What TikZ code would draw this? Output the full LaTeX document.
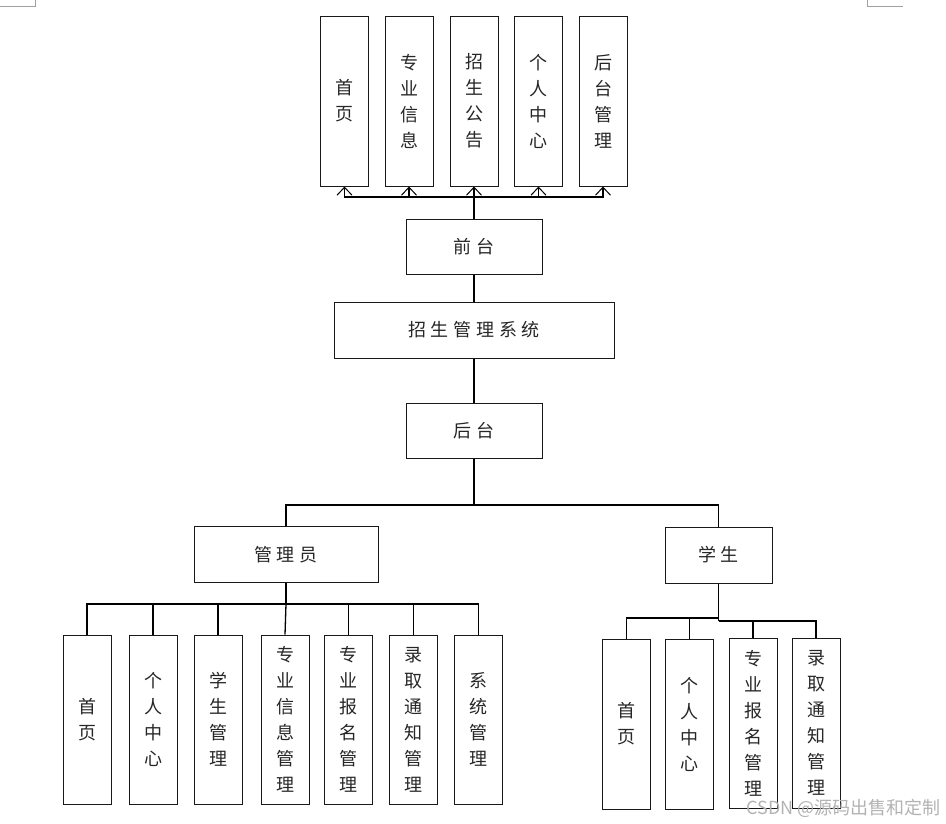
\documentclass[tikz,border=0pt]{standalone}
\usepackage{fontspec}
\usepackage{tikz}
\usetikzlibrary{arrows.meta,backgrounds}
\newfontfamily\cjk{Noto Sans CJK SC}
\newfontfamily\cjkwide[LetterSpace=26]{Noto Sans CJK SC}
\pgfdeclarelayer{edgelayer}
\pgfdeclarelayer{nodelayer}
\pgfsetlayers{edgelayer,nodelayer,main}
\tikzstyle{none}=[inner sep=0pt]
\definecolor{cornergray}{RGB}{160,160,160}
\definecolor{wmgray}{RGB}{178,178,178}
\tikzstyle{block}=[rectangle,draw=black!90,line width=1pt,inner sep=0pt,text=black!85]
\tikzstyle{wide}=[block,minimum width=136pt,minimum height=55pt,font=\cjkwide\fontsize{18}{22}\selectfont]
\tikzstyle{column}=[block,minimum width=48pt,minimum height=170pt,align=center,text width=22pt,font=\cjk\fontsize{18}{26}\selectfont]
\tikzstyle{bar}=[-,line width=1.3pt]
\tikzstyle{inarrow}=[-{Straight Barb[length=8pt,width=15pt,line width=1pt]},line width=1.3pt]

\begin{document}
\begin{tikzpicture}[x=1pt,y=-1pt]
	\useasboundingbox (0,0) rectangle (946,823);
	% page corner marks
	\draw [cornergray, line width=1pt] (0,6) -- (35,6) -- (35,0);
	\draw [cornergray, line width=1pt] (867,0) -- (867,6) -- (903,6);
	\begin{pgfonlayer}{nodelayer}
		\node [style=column] (1) at (344.5, 101) {首\\页};
		\node [style=column] (2) at (409, 101) {专\\业\\信\\息};
		\node [style=column] (3) at (474, 101) {招\\生\\公\\告};
		\node [style=column] (4) at (538.5, 101) {个\\人\\中\\心};
		\node [style=column] (5) at (603, 101) {后\\台\\管\\理};
		\node [style=wide] (6) at (474, 246.5) {前台\hspace{-4.7pt}};
		\node [style=wide, minimum width=280pt, minimum height=56pt] (7) at (474, 330) {招生管理系统\hspace{-4.7pt}};
		\node [style=wide] (8) at (474, 431) {后台\hspace{-4.7pt}};
		\node [style=wide, minimum width=184pt, minimum height=56pt] (9) at (286, 554.5) {管理员\hspace{-4.7pt}};
		\node [style=wide, minimum width=107pt, minimum height=56pt] (10) at (718.5, 555) {学生\hspace{-4.7pt}};
		\node [style=column, minimum height=169pt] (11) at (87, 719.5) {首\\页};
		\node [style=column, minimum height=169pt] (12) at (153, 719.5) {个\\人\\中\\心};
		\node [style=column, minimum height=169pt] (13) at (218, 719.5) {学\\生\\管\\理};
		\node [style=column, minimum height=169pt] (14) at (285, 719.5) {专\\业\\信\\息\\管\\理};
		\node [style=column, minimum height=169pt] (15) at (348.5, 719.5) {专\\业\\报\\名\\管\\理};
		\node [style=column, minimum height=169pt] (16) at (413.5, 719.5) {录\\取\\通\\知\\管\\理};
		\node [style=column, minimum height=169pt] (17) at (478.5, 719.5) {系\\统\\管\\理};
		\node [style=column] (18) at (626.5, 724) {首\\页};
		\node [style=column] (19) at (689.5, 724) {个\\人\\中\\心};
		\node [style=column] (20) at (753, 723) {专\\业\\报\\名\\管\\理};
		\node [style=column] (21) at (816, 723) {录\\取\\通\\知\\管\\理};
		\node [style=none] (22) at (474, 197) {};
		\node [style=none] (23) at (474, 505) {};
		\node [style=none] (24) at (286, 604) {};
		\node [style=none] (25) at (718.5, 618) {};
		\node [style=none] (26) at (718.5, 621) {};
	\end{pgfonlayer}
	\begin{pgfonlayer}{edgelayer}
		\draw [style=bar] (6.north) to (22.center);
		\draw [style=inarrow] (22.center) -| (1.south);
		\draw [style=inarrow] (22.center) -| (2.south);
		\draw [style=inarrow] (22.center) to (3.south);
		\draw [style=inarrow] (22.center) -| (4.south);
		\draw [style=inarrow] (22.center) -| (5.south);
		\draw [style=bar] (6) to (7);
		\draw [style=bar] (7) to (8);
		\draw [style=bar] (8.south) to (23.center);
		\draw [style=bar] (23.center) -| (9.north);
		\draw [style=bar] (23.center) -| (10.north);
		\draw [style=bar] (9.south) to (24.center);
		\draw [style=bar] (24.center) -| (11.north);
		\draw [style=bar] (24.center) -| (12.north);
		\draw [style=bar] (24.center) -| (13.north);
		\draw [style=bar] (24.center) to (14.north);
		\draw [style=bar] (24.center) -| (15.north);
		\draw [style=bar] (24.center) -| (16.north);
		\draw [style=bar] (24.center) -| (17.north);
		\draw [style=bar] (10.south) to (26.center);
		\draw [style=bar] (25.center) -| (18.north);
		\draw [style=bar] (25.center) -| (19.north);
		\draw [style=bar] (26.center) -| (20.north);
		\draw [style=bar] (26.center) -| (21.north);
	\end{pgfonlayer}
	\node [anchor=east, text=wmgray, inner sep=0pt, font=\cjk\fontsize{18}{20}\selectfont] (27) at (941, 808) {CSDN @源码出售和定制};
\end{tikzpicture}
\end{document}
